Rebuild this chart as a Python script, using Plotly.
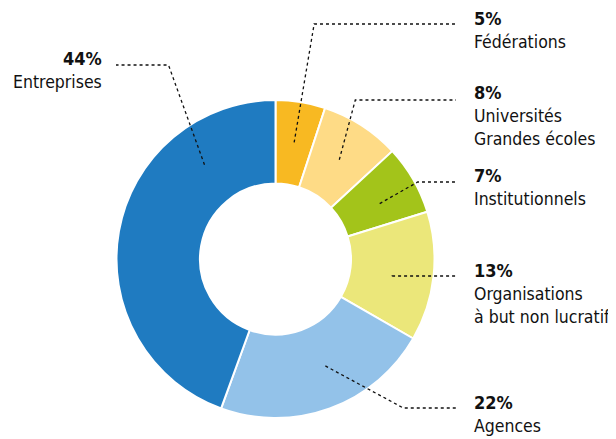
import math
import plotly.graph_objects as go

# data, clockwise from 12 o'clock
labels = ["Fédérations", "Universités<br>Grandes écoles", "Institutionnels",
          "Organisations<br>à but non lucratif", "Agences", "Entreprises"]
values = [5, 8, 7, 13, 22, 44]
colors = ["#F8B922", "#FEDB86", "#A3C41A", "#EBE77A", "#93C2E9", "#1F7BC1"]

# the page body has an 8px margin, so the figure is a bit smaller and
# every pixel position below is given in window pixels then shifted
OFF = 8
W, H = 616 - OFF, 439 - OFF
cx, cy, R = 275.5, 259, 159   # pie centre / radius in window pixels


def px(x, y):
    return (x - OFF) / W, 1 - (y - OFF) / H


fig = go.Figure()
fig.add_trace(go.Pie(
    labels=labels, values=values, sort=False, direction="clockwise", rotation=0,
    hole=0.475, textinfo="none", hoverinfo="label+value",
    marker=dict(colors=colors, line=dict(color="white", width=2)),
    domain=dict(x=[px(cx - R, 0)[0], px(cx + R, 0)[0]],
                y=[px(0, cy + R)[1], px(0, cy - R)[1]]),
    showlegend=False,
))

# leader line / label layout
label_y = [24, 100, 182, 276, 408, 65]
text_y = [18, 92, 175, 270, 402, 58]
shift = [0, 0, 2, 2, -5, 43]
elbow_dx = [20, 16, 38, 0, 78, -36]

total = sum(values)
cum = 0
shapes, annots = [], []
for i, v in enumerate(values):
    mid = (cum + v / 2) / total * 360 + shift[i]
    cum += v
    a = math.radians(mid)
    r = 118
    x0, y0 = cx + r * math.sin(a), cy - r * math.cos(a)
    ly = label_y[i]
    ex = x0 + elbow_dx[i]
    if i == 5:
        pts = [(x0, y0), (ex, ly), (116, ly)]
        tx, xanchor = 103, "right"
    else:
        pts = [(x0, y0), (ex, ly), (456, ly)]
        tx, xanchor = 473, "left"
    path = "M " + " L ".join("%f,%f" % px(*p) for p in pts)
    shapes.append(dict(type="path", path=path, xref="paper", yref="paper",
                       line=dict(color="#111", width=1.3, dash="dot")))
    pxx, pyy = px(tx, text_y[i])
    annots.append(dict(x=pxx, y=pyy, xref="paper", yref="paper", showarrow=False,
                       xanchor=xanchor, yanchor="middle", align=xanchor, borderpad=0,
                       text="<b>%d%%</b>" % v,
                       font=dict(size=18, color="#111")))
    pxx, pyy = px(tx, text_y[i] + 13)
    annots.append(dict(x=pxx, y=pyy, xref="paper", yref="paper", showarrow=False,
                       xanchor=xanchor, yanchor="top", align=xanchor, borderpad=0,
                       text=labels[i], font=dict(size=17.5, color="#111")))

fig.update_layout(
    width=W, height=H, margin=dict(l=0, r=0, t=0, b=0),
    paper_bgcolor="white", plot_bgcolor="white",
    font=dict(family="DejaVu Sans Condensed, Liberation Sans Narrow, sans-serif"),
    shapes=shapes, annotations=annots,
)
fig.write_html("out.html")
